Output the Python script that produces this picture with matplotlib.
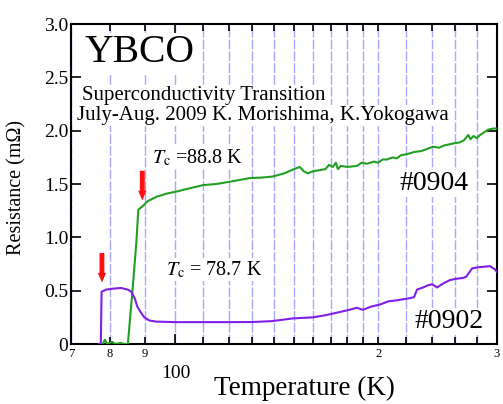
# Resistencia vs temperatura de dos muestras de YBCO.

import matplotlib.pyplot as plt
import numpy as np

plt.rcParams['font.family'] = ['Liberation Serif', 'DejaVu Serif']
plt.rcParams['mathtext.fontset'] = 'stix'

# Muestra #0904 (verde): temperatura (K) y resistencia (mOhm).
T_0904 = [77.0, 78.0, 78.6, 79.2, 80.5, 81.5, 83.0, 84.0, 85.0, 86.3, 87.5, 88.1,
          89.3, 91.0, 93.7, 97.0, 100.5, 105, 110, 115, 120, 125, 129, 134, 139.4,
          145, 150, 152.9, 155, 157.2, 160, 163.7, 167, 169, 171.2, 173, 174.2, 176,
          180, 185.9, 189, 192.4, 197, 200, 203, 206, 210, 213, 216, 220.6, 226,
          232, 241.1, 246, 250, 258.2, 264, 268, 272, 274, 277, 280, 283.3, 288,
          291.1, 296, 300]
R_0904 = [0.0, 0.0, 0.04, 0.0, 0.02, 0.0, 0.01, 0.0, 0.0, 0.48, 0.95, 1.26,
          1.29, 1.34, 1.38, 1.41, 1.43, 1.46, 1.49, 1.50, 1.52, 1.54, 1.556, 1.56, 1.57,
          1.60, 1.64, 1.66, 1.62, 1.60, 1.62, 1.63, 1.64, 1.68, 1.66, 1.70, 1.64, 1.67,
          1.66, 1.67, 1.70, 1.69, 1.71, 1.70, 1.73, 1.73, 1.75, 1.74, 1.77, 1.78, 1.80,
          1.81, 1.85, 1.84, 1.86, 1.88, 1.89, 1.91, 1.96, 1.92, 1.95, 1.93, 1.96, 1.99,
          2.01, 2.02, 2.02]

# Muestra #0902 (morado).
T_0902 = [77.0, 77.5, 77.7, 78.9, 81.0, 83.1, 85.0, 86.0, 87.0, 87.8, 89.0, 89.9,
          91.5, 93.7, 100, 110, 120, 130, 139.4, 149.3, 159.9, 167, 175.4, 181,
          185.9, 189.7, 195, 201.1, 207, 213.2, 223, 226, 228.3, 233, 237, 240.4,
          244.5, 250, 255.6, 260, 267.3, 270, 275.7, 282, 293, 296.2, 298, 300]
R_0902 = [0.0, 0.0, 0.49, 0.51, 0.52, 0.525, 0.51, 0.49, 0.43, 0.35, 0.29, 0.25,
          0.22, 0.21, 0.205, 0.205, 0.205, 0.206, 0.215, 0.24, 0.25, 0.27, 0.30, 0.32,
          0.34, 0.32, 0.35, 0.37, 0.40, 0.41, 0.43, 0.44, 0.51, 0.53, 0.55, 0.56,
          0.53, 0.57, 0.60, 0.61, 0.62, 0.63, 0.71, 0.72, 0.73, 0.71, 0.70, 0.675]

# Flechas rojas que marcan Tc.
flecha_T = [89.3, 77.8]
flecha_arriba = [1.65, 0.88]
flecha_abajo = [1.32, 0.55]

# Ticks del eje x (escala log).
ticks_menores = [70, 80, 90, 110, 120, 130, 140, 150, 160, 170, 180, 190, 200,
                 220, 240, 260, 280, 300]
etiquetas_menores = ['7', '8', '9', '', '', '', '', '', '', '', '', '', '2',
                     '', '', '', '', '3']
ticks_y = [0, 0.5, 1.0, 1.5, 2.0, 2.5, 3.0]
etiquetas_y = ['0', '0.5', '1.0', '1.5', '2.0', '2.5', '3.0']

fig = plt.figure(figsize=(5.03, 4.04), dpi=100)
ax = fig.add_axes([0.1412, 0.1485, 0.8468, 0.792])

ax.plot(T_0904, R_0904, color='#22a022', lw=1.5, zorder=3)
ax.plot(T_0902, R_0902, color='#7f1fe8', lw=1.5, zorder=3)

for t, y0, y1 in zip(flecha_T, flecha_arriba, flecha_abajo):
    ax.annotate('', xy=(t, y1), xytext=(t, y0),
                arrowprops=dict(arrowstyle='simple,head_length=0.7,head_width=0.6,tail_width=0.35',
                                color='#ff1010', mutation_scale=10, lw=0),
                zorder=4)

ax.set_xscale('log')
ax.set_xlim(70, 300)
ax.set_ylim(0, 3.0)

ax.set_xticks([100])
ax.set_xticklabels(['100'], fontsize=14)
ax.set_xticks(ticks_menores, minor=True)
ax.set_xticklabels(etiquetas_menores, minor=True, fontsize=9)
ax.set_yticks(ticks_y)
ax.set_yticklabels(etiquetas_y, fontsize=14)

ax.tick_params(direction='in', top=True, right=True, width=1.2, which='both')
ax.tick_params(axis='x', which='major', length=7, pad=15)
ax.tick_params(axis='x', which='minor', length=5, pad=3)
ax.tick_params(axis='y', length=7, pad=2)

ax.grid(True, which='both', axis='x', color='#a8a8ff', linestyle=(0, (7, 1.5)), lw=1)
for s in ax.spines.values():
    s.set_linewidth(1.5)

ax.set_xlabel('Temperature (K)', fontsize=19.5)
ax.xaxis.set_label_coords(0.548, -0.1)
ax.set_ylabel('Resistance (m\u03a9)', fontsize=14.5)
ax.yaxis.set_label_coords(-0.105, 0.489)

caja = dict(facecolor='white', edgecolor='none', pad=1)
ax.text(0.031, 0.881, 'YBCO', transform=ax.transAxes, fontsize=28.5, bbox=caja)
ax.text(0.026, 0.7625, 'Superconductivity Transition', transform=ax.transAxes,
        fontsize=15, bbox=caja)
ax.text(0.014, 0.70, 'July-Aug. 2009 K. Morishima, K.Yokogawa', transform=ax.transAxes,
        fontsize=15, bbox=caja)
ax.text(0.19, 0.566, r'$T_\mathrm{c}$ =88.8 K', transform=ax.transAxes, fontsize=14.5, bbox=caja)
ax.text(0.2235, 0.216, r'$T_\mathrm{c}$ = 78.7 K', transform=ax.transAxes, fontsize=14.5, bbox=caja)
ax.text(0.772, 0.481, '#0904', transform=ax.transAxes, fontsize=20, bbox=caja)
ax.text(0.807, 0.05, '#0902', transform=ax.transAxes, fontsize=20, bbox=caja)

fig.savefig('out.png', dpi=100)
